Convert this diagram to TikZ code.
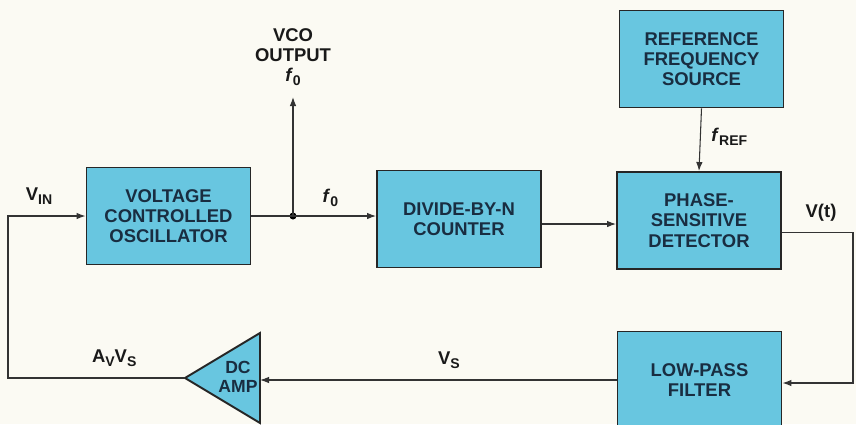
\documentclass[tikz,border=0pt]{standalone}
\usepackage{fontspec}
\setmainfont{Liberation Sans}
\usetikzlibrary{arrows.meta, positioning, calc}
\definecolor{boxblue}{RGB}{104,198,224}
\definecolor{boxtext}{RGB}{25,45,65}
\definecolor{paper}{RGB}{251,250,243}
\newcommand{\lowtxt}[1]{\raisebox{-0.45ex}{\footnotesize #1}}
\tikzset{
  blk/.style={draw=black!85, line width=1.1pt, fill=boxblue, text=boxtext, minimum width=3.28cm, minimum height=1.94cm,
    font=\bfseries\fontsize{10.5}{11.5}\selectfont, align=center, inner sep=0pt},
  wire/.style={line width=0.6pt, draw=black!80},
  arr/.style={wire, -{Latex[length=1.8mm, width=1.3mm]}},
  lbl/.style={font=\bfseries\fontsize{10.5}{11.5}\selectfont, text=black!90, inner sep=1pt, align=center},
}

\begin{document}
\begin{tikzpicture}[x=0.02cm, y=-0.02cm]
  \fill[paper] (0,0) rectangle (856,424);
  \useasboundingbox (0,0) rectangle (856,424);
  % blocks
  \node[blk] (vco) at (168.5,216) {VOLTAGE\\CONTROLLED\\OSCILLATOR};
  \node[blk] (div) at (459,219) {DIVIDE-BY-N\\COUNTER};
  \node[blk] (psd) at (699,220.5) {PHASE-\\SENSITIVE\\DETECTOR};
  \node[blk] (ref) at (701.5,59) {REFERENCE\\FREQUENCY\\SOURCE};
  \node[blk] (lpf) at (699.5,380) {LOW-PASS\\FILTER};
  % dc amplifier
  \coordinate (ampin) at (260,380);
  \coordinate (ampout) at (185,378);
  \draw[blk] (ampout) -- (260,333) -- (260,423) -- cycle;
  \node[text=boxtext, font=\bfseries\fontsize{10}{11}\selectfont, align=center] (amp) at (238,377) {DC\\AMP};
  % junction and vco output
  \coordinate (jn) at (293,216);
  \coordinate (vcotip) at (293,97);
  \fill (jn) circle (3.5);
  \node[lbl, above=5pt of vcotip] (vcoout) {VCO\\OUTPUT\\\textit{f}\lowtxt{0}};
  % connectors
  \draw[wire] (vco.east) -- (jn);
  \draw[arr] (jn) -- (vcotip);
  \draw[arr] (jn) -- node[lbl, above=4pt, pos=0.45] (fzero) {\textit{f}\lowtxt{0}} (jn -| div.west);
  \coordinate (dp) at ($(div.east)+(0,5)$);
  \draw[arr] (dp) -- (dp -| psd.west);
  \draw[arr] (ref.south) -- node[lbl, right=5pt, pos=0.45] (fref) {\textit{f}\lowtxt{REF}} (psd.north);
  \draw[arr] ($(psd.east)+(0,12)$) -- node[lbl, above=5pt, pos=0.55] (vt) {V(t)} (853,232.5) -- (853,383) -- ($(lpf.east)+(0,3)$);
  \draw[arr] (lpf.west) -- node[lbl, above=5pt, pos=0.47] (vs) {V\lowtxt{S}} (ampin);
  \draw[arr] (ampout) -- node[lbl, above=5pt, pos=0.4] (avvs) {A\lowtxt{V}V\lowtxt{S}} (8,378) -- (8,216)
    -- node[lbl, above=5pt, pos=0.4] (vin) {V\lowtxt{IN}} (vco.west);
\end{tikzpicture}
\end{document}
